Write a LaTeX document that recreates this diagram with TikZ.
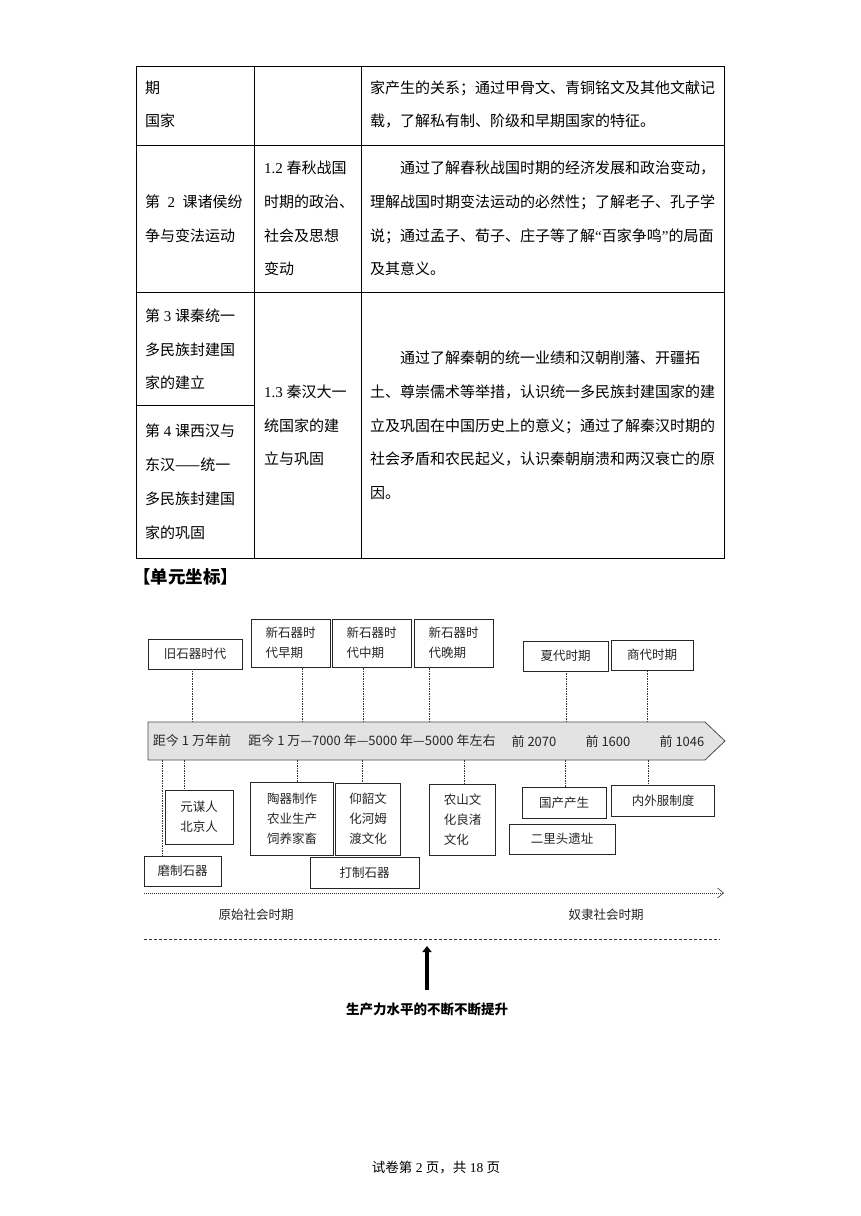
\documentclass[tikz,border=0pt]{standalone}
\usepackage{fontspec}
\setmainfont{Liberation Serif}
\newfontfamily\cjk{Noto Sans CJK SC}
\usetikzlibrary{arrows.meta}
\newcommand\lat[1]{{\rmfamily #1}}
\begin{document}
\begin{tikzpicture}[x=1pt,y=-1pt,
  tbl/.style={line width=0.8pt, draw=black},
  tt/.style={anchor=west, inner sep=0pt, font=\cjk\fontsize{15}{15}\selectfont},
  box/.style={draw=black!85, line width=0.7pt, inner sep=0pt, text=black!85, font=\cjk\fontsize{12.5}{20}\selectfont},
  bandtxt/.style={inner sep=0pt, text=black!85, font=\cjk\fontsize{13}{13}\selectfont},
  lbl/.style={inner sep=0pt, text=black!85, font=\cjk\fontsize{12.5}{13}\selectfont},
  dashline/.style={draw=black!80, line width=0.6pt, densely dashed, dash pattern=on 1.5pt off 1pt}
]
\useasboundingbox (0,0) rectangle (860,1216);
\fill[white] (0,0) rectangle (860,1216);

% ---------- table ----------
\draw[tbl] (136,66) rectangle (724,558);
\draw[tbl] (254,66) -- (254,558);
\draw[tbl] (361,66) -- (361,558);
\draw[tbl] (136,145) -- (724,145);
\draw[tbl] (136,292) -- (724,292);
\draw[tbl] (136,405) -- (254,405);

% row 1
\node[tt] (r1a) at (145,88) {期};
\node[tt] (r1b) at (145,121) {国家};
\node[tt] (r1c) at (370,88) {家产生的关系；通过甲骨文、青铜铭文及其他文献记};
\node[tt] (r1d) at (370,121) {载，了解私有制、阶级和早期国家的特征。};

% row 2
\node[tt] (r2a) at (145,202) {第\lat{\ \ 2\ \ }课诸侯纷};
\node[tt] (r2b) at (145,236) {争与变法运动};
\node[tt] (r2c) at (264,168) {\lat{1.2 }春秋战国};
\node[tt] (r2d) at (264,202) {时期的政治、};
\node[tt] (r2e) at (264,236) {社会及思想};
\node[tt] (r2f) at (264,269) {变动};
\node[tt] (r2g) at (400,168) {通过了解春秋战国时期的经济发展和政治变动，};
\node[tt] (r2h) at (370,202) {理解战国时期变法运动的必然性；了解老子、孔子学};
\node[tt] (r2i) at (370,236) {说；通过孟子、荀子、庄子等了解\lat{“}百家争鸣\lat{”}的局面};
\node[tt] (r2j) at (370,269) {及其意义。};

% row 3
\node[tt] (r3a) at (145,316) {第\lat{ 3 }课秦统一};
\node[tt] (r3b) at (145,350) {多民族封建国};
\node[tt] (r3c) at (145,383) {家的建立};
\node[tt] (r3d) at (145,431) {第\lat{ 4 }课西汉与};
\node[tt] (r3e) at (145,465) {东汉——统一};
\node[tt] (r3f) at (145,499) {多民族封建国};
\node[tt] (r3g) at (145,533) {家的巩固};
\node[tt] (r3h) at (264,392) {\lat{1.3 }秦汉大一};
\node[tt] (r3i) at (264,426) {统国家的建};
\node[tt] (r3j) at (264,459) {立与巩固};
\node[tt] (r3k) at (400,358) {通过了解秦朝的统一业绩和汉朝削藩、开疆拓};
\node[tt] (r3l) at (370,392) {土、尊崇儒术等举措，认识统一多民族封建国家的建};
\node[tt] (r3m) at (370,426) {立及巩固在中国历史上的意义；通过了解秦汉时期的};
\node[tt] (r3n) at (370,459) {社会矛盾和农民起义，认识秦朝崩溃和两汉衰亡的原};
\node[tt] (r3o) at (370,493) {因。};

% heading
\node[anchor=west, inner sep=0pt, font=\cjk\bfseries\fontsize{17.5}{17.5}\selectfont] (head) at (133,577) {【单元坐标】};

% ---------- timeline ----------
\draw[fill=black!11, draw=black!70, line width=0.8pt] (148,722) -- (705,722) -- (725,741) -- (705,760) -- (148,760) -- cycle;
\node[bandtxt] (bt1) at (192,741) {距今 1 万年前};
\node[bandtxt] (bt2) at (372,741) {距今 1 万—7000 年—5000 年—5000 年左右};
\node[bandtxt] (bt3) at (534,741) {前 2070};
\node[bandtxt] (bt4) at (608,741) {前 1600};
\node[bandtxt] (bt5) at (682,741) {前 1046};

% top boxes
\node[box, minimum width=94pt, minimum height=30pt] (b1) at (195,654) {旧石器时代};
\node[box, minimum width=79pt, minimum height=48pt, align=left] (b2) at (290.5,643) {新石器时\\代早期};
\node[box, minimum width=79pt, minimum height=48pt, align=left] (b3) at (371.5,643) {新石器时\\代中期};
\node[box, minimum width=79pt, minimum height=48pt, align=left] (b4) at (453.5,643) {新石器时\\代晚期};
\node[box, minimum width=85pt, minimum height=30pt] (b5) at (565.5,656) {夏代时期};
\node[box, minimum width=82pt, minimum height=30pt] (b6) at (652,655) {商代时期};

% top ticks
\coordinate (t1) at (192,722);
\coordinate (t2) at (302,722);
\coordinate (t3) at (363,722);
\coordinate (t4) at (429,722);
\coordinate (t5) at (566,722);
\coordinate (t6) at (647,722);
\draw[dashline] (t1) -- (t1 |- b1.south);
\draw[dashline] (t2) -- (t2 |- b2.south);
\draw[dashline] (t3) -- (t3 |- b3.south);
\draw[dashline] (t4) -- (t4 |- b4.south);
\draw[dashline] (t5) -- (t5 |- b5.south);
\draw[dashline] (t6) -- (t6 |- b6.south);

% bottom boxes
\node[box, minimum width=68pt, minimum height=54pt, align=center] (c1) at (199,817) {元谋人\\北京人};
\node[box, minimum width=83pt, minimum height=73pt, align=center] (c2) at (292,818.5) {陶器制作\\农业生产\\饲养家畜};
\node[box, minimum width=65pt, minimum height=72pt, align=left] (c3) at (368,819) {仰韶文\\化河姆\\渡文化};
\node[box, minimum width=66pt, minimum height=71pt, align=left] (c4) at (462.5,819.5) {农山文\\化良渚\\文化};
\node[box, minimum width=84pt, minimum height=31pt] (c5) at (564,802.5) {国产产生};
\node[box, minimum width=106pt, minimum height=30pt] (c6) at (562,839) {二里头遗址};
\node[box, minimum width=103pt, minimum height=31pt] (c7) at (663,800.5) {内外服制度};
\node[box, minimum width=77pt, minimum height=30pt] (c8) at (182.5,871) {磨制石器};
\node[box, minimum width=109pt, minimum height=31pt] (c9) at (364.5,872.5) {打制石器};

% bottom ticks
\coordinate (s1) at (162,760);
\coordinate (s2) at (184,760);
\coordinate (s3) at (297,760);
\coordinate (s4) at (362,760);
\coordinate (s5) at (464,760);
\coordinate (s6) at (565,760);
\coordinate (s7) at (648,760);
\draw[dashline] (s1) -- (s1 |- c8.north);
\draw[dashline] (s2) -- (s2 |- c1.north);
\draw[dashline] (s3) -- (s3 |- c2.north);
\draw[dashline] (s4) -- (s4 |- c3.north);
\draw[dashline] (s5) -- (s5 |- c4.north);
\draw[dashline] (s6) -- (s6 |- c5.north);
\draw[dashline] (s7) -- (s7 |- c7.north);

% period arrow
\coordinate (da) at (144,893);
\coordinate (db) at (724,893);
\draw[draw=black!80, line width=0.6pt, dash pattern=on 1pt off 1pt, -{Straight Barb[length=6pt,width=10pt]}] (da) -- (db);
\node[lbl] (p1) at (256,915) {原始社会时期};
\node[lbl] (p2) at (606,915) {奴隶社会时期};

% dashed separator
\coordinate (ea) at (144,939);
\coordinate (eb) at (720,939);
\draw[draw=black!80, line width=0.6pt, dash pattern=on 3pt off 2pt] (ea) -- (eb);

% thick arrow
\coordinate (ua) at (427,990);
\coordinate (ub) at (427,946);
\draw[line width=3.5pt, -{Triangle[length=6pt,width=9pt]}] (ua) -- (ub);
\node[inner sep=0pt, font=\cjk\bfseries\fontsize{13.5}{13.5}\selectfont] (prod) at (427,1009) {生产力水平的不断不断提升};

% footer
\node[inner sep=0pt, font=\cjk\fontsize{13.5}{13.5}\selectfont] (foot) at (436,1168) {试卷第\lat{ 2 }页，共\lat{ 18 }页};
\end{tikzpicture}
\end{document}
